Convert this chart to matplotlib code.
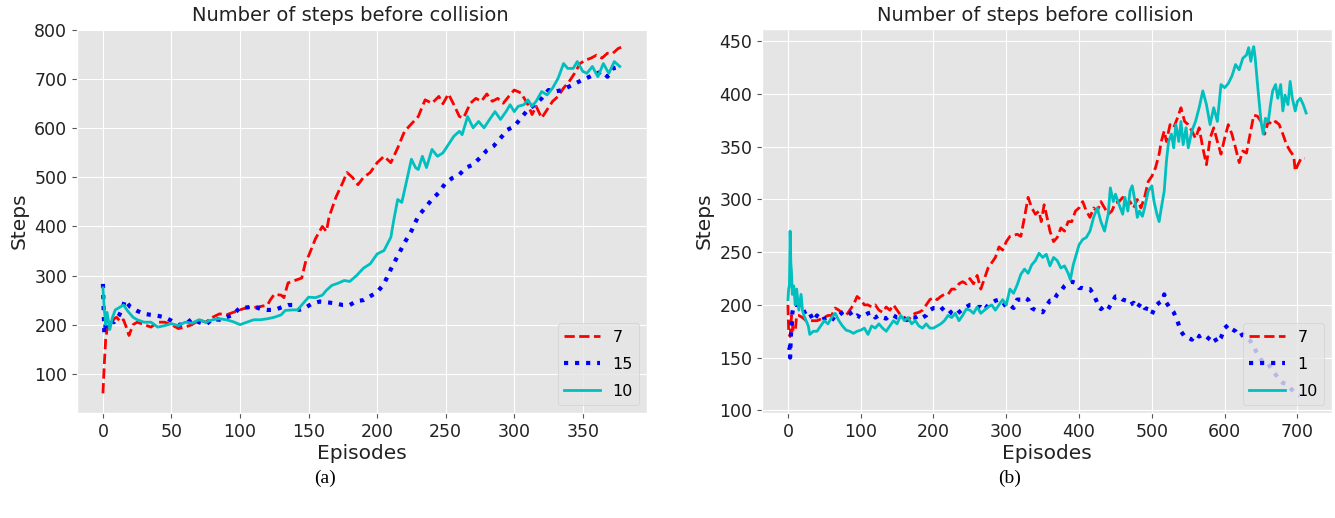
import numpy as np
import matplotlib
matplotlib.use("Agg")
import matplotlib.pyplot as plt

# ---- (a) values ----
a_red_x = [0, 1, 2, 3, 5, 8, 10, 13, 15, 17, 19, 22, 25, 30, 35, 40, 45, 50, 55, 60, 65, 70, 75, 80,
           85, 90, 95, 100, 105, 110, 115, 120, 122, 125, 130, 132, 135, 140, 145, 148, 150, 155, 160,
           163, 165, 170, 175, 178, 182, 186, 190, 195, 200, 205, 210, 215, 220, 225, 230, 235, 240,
           245, 248, 252, 256, 260, 263, 268, 272, 276, 280, 284, 288, 292, 296, 300, 305, 310, 313,
           316, 320, 324, 328, 332, 336, 340, 344, 348, 352, 356, 360, 364, 368, 372, 376, 378]
a_red_y = [60, 120, 170, 190, 200, 212, 215, 205, 210, 195, 178, 200, 205, 200, 195, 205, 205, 200,
           192, 195, 200, 210, 205, 215, 222, 220, 225, 230, 235, 235, 237, 240, 250, 262, 260, 255,
           285, 290, 295, 330, 340, 375, 400, 390, 420, 460, 490, 510, 500, 485, 500, 510, 530, 543,
           530, 560, 594, 609, 624, 658, 651, 665, 650, 670, 648, 624, 621, 651, 661, 655, 670, 655,
           661, 651, 665, 678, 672, 648, 628, 645, 621, 638, 655, 665, 682, 695, 712, 732, 739, 743,
           749, 743, 753, 753, 763, 765]

a_blue_x = [0, 1, 2, 5, 8, 12, 15, 16, 20, 25, 30, 35, 40, 45, 50, 55, 60, 65, 70, 75, 80, 85, 90,
            95, 100, 105, 110, 115, 120, 125, 130, 135, 140, 143, 148, 152, 158, 165, 170, 175, 180,
            185, 190, 195, 200, 205, 210, 215, 220, 225, 230, 235, 240, 245, 250, 255, 260, 265, 270,
            275, 280, 285, 290, 295, 300, 305, 310, 315, 320, 325, 330, 335, 340, 345, 350, 355, 360,
            365, 368, 372, 377]
a_blue_y = [283, 182, 200, 210, 205, 220, 240, 250, 236, 228, 222, 220, 218, 215, 208, 200, 200, 212,
            205, 200, 212, 210, 215, 220, 235, 235, 237, 232, 230, 230, 235, 240, 240, 230, 235, 242,
            247, 245, 243, 240, 240, 248, 250, 258, 266, 283, 313, 340, 367, 391, 421, 438, 455, 469,
            489, 499, 506, 520, 526, 540, 555, 564, 580, 597, 604, 621, 638, 648, 661, 678, 675, 678,
            685, 692, 699, 705, 712, 716, 705, 722, 726]

a_cyan_x = [0, 1, 2, 3, 5, 7, 9, 12, 15, 18, 22, 25, 30, 35, 40, 45, 50, 55, 60, 65, 70, 75, 80, 85,
            90, 95, 100, 105, 110, 115, 120, 125, 130, 133, 138, 142, 145, 150, 155, 160, 163, 167,
            172, 176, 180, 185, 190, 195, 200, 205, 210, 212, 215, 218, 222, 225, 228, 230, 233, 236,
            240, 244, 248, 252, 256, 260, 262, 266, 270, 274, 278, 282, 286, 290, 294, 297, 300, 303,
            307, 310, 313, 316, 320, 324, 328, 332, 336, 339, 343, 346, 350, 353, 357, 361, 365, 369,
            373, 377]
a_cyan_y = [275, 230, 200, 225, 190, 215, 230, 235, 240, 228, 215, 210, 205, 205, 195, 198, 202, 198,
            205, 203, 210, 205, 210, 212, 210, 206, 200, 205, 210, 210, 212, 215, 220, 229, 230, 230,
            240, 256, 255, 260, 270, 280, 285, 290, 288, 300, 315, 324, 344, 351, 378, 411, 455, 449,
            499, 537, 520, 516, 543, 520, 557, 543, 550, 567, 584, 594, 587, 624, 601, 614, 601, 618,
            634, 618, 634, 648, 634, 645, 648, 658, 645, 655, 675, 668, 682, 702, 732, 722, 722, 736,
            716, 712, 726, 705, 732, 712, 736, 726]

# ---- (b) values ----
b_red_x = [0, 1, 3, 5, 7, 10, 12, 15, 20, 25, 30, 40, 50, 55, 60, 65, 70, 75, 80, 85, 90, 95, 100,
           105, 110, 115, 120, 125, 130, 135, 140, 145, 150, 155, 160, 165, 170, 175, 180, 185, 190,
           195, 200, 205, 210, 215, 220, 225, 230, 235, 240, 245, 250, 255, 260, 265, 270, 275, 280,
           285, 290, 295, 300, 305, 315, 320, 325, 330, 335, 340, 345, 348, 352, 356, 360, 365, 370,
           375, 380, 385, 390, 395, 400, 405, 410, 415, 420, 425, 430, 435, 440, 445, 450, 455, 460,
           465, 470, 475, 480, 485, 490, 495, 500, 505, 510, 513, 517, 520, 525, 530, 535, 540, 545,
           550, 555, 560, 565, 570, 575, 580, 585, 590, 595, 600, 605, 610, 615, 620, 625, 630, 635,
           640, 645, 650, 655, 660, 665, 670, 675, 680, 685, 690, 695, 697, 700, 705, 710]
b_red_y = [200, 175, 170, 190, 175, 175, 190, 190, 188, 185, 185, 185, 188, 190, 190, 197, 195, 192,
           190, 195, 200, 208, 205, 200, 200, 198, 200, 195, 193, 198, 195, 200, 195, 190, 188, 185,
           190, 192, 193, 195, 200, 205, 207, 205, 208, 210, 210, 215, 215, 220, 222, 220, 225, 220,
           228, 215, 225, 235, 240, 245, 255, 252, 260, 265, 267, 265, 283, 302, 292, 286, 289, 279,
           295, 283, 270, 260, 264, 273, 270, 279, 279, 289, 292, 298, 289, 283, 292, 289, 298, 292,
           286, 289, 297, 298, 302, 295, 298, 292, 300, 292, 302, 317, 322, 330, 343, 355, 365, 355,
           371, 368, 377, 387, 374, 371, 365, 358, 368, 349, 333, 358, 368, 355, 343, 358, 371, 362,
           349, 335, 346, 344, 362, 380, 379, 374, 362, 374, 371, 374, 371, 362, 352, 346, 341, 327,
           332, 339, 339]

b_blue_x = [0, 2, 3, 4, 5, 6, 8, 10, 15, 20, 25, 30, 35, 40, 45, 50, 55, 60, 65, 70, 75, 80, 85, 90,
            95, 100, 105, 110, 115, 120, 125, 130, 135, 140, 145, 150, 155, 160, 165, 170, 175, 180,
            185, 190, 195, 200, 205, 210, 215, 220, 225, 230, 235, 240, 245, 250, 255, 260, 265, 270,
            275, 280, 285, 290, 295, 300, 305, 310, 315, 320, 325, 330, 335, 340, 345, 350, 355, 360,
            365, 370, 375, 380, 385, 390, 395, 400, 405, 410, 415, 420, 425, 430, 435, 440, 445, 450,
            455, 460, 465, 470, 475, 480, 485, 490, 495, 500, 505, 510, 515, 517, 520, 525, 530, 535,
            540, 545, 550, 555, 560, 565, 570, 575, 580, 585, 590, 595, 600, 605, 610, 615, 620, 625,
            630, 635, 640, 645, 650, 655, 660, 665, 670, 675, 680, 685, 690, 695, 700, 703]
b_blue_y = [160, 160, 150, 170, 180, 192, 200, 200, 200, 197, 190, 192, 185, 190, 185, 187, 188, 185,
            190, 190, 193, 195, 193, 188, 190, 188, 190, 192, 193, 188, 190, 188, 187, 190, 190, 188,
            188, 187, 185, 188, 188, 190, 188, 190, 195, 197, 197, 195, 198, 196, 192, 190, 193, 196,
            198, 200, 200, 198, 198, 195, 200, 202, 204, 205, 203, 198, 200, 197, 205, 205, 207, 205,
            197, 195, 194, 193, 199, 204, 204, 210, 213, 218, 221, 222, 221, 216, 216, 215, 215, 210,
            202, 196, 199, 196, 202, 208, 208, 205, 204, 200, 202, 197, 202, 197, 196, 191, 199, 202,
            204, 210, 202, 197, 193, 185, 175, 170, 169, 167, 172, 170, 172, 170, 167, 170, 164, 169,
            178, 181, 177, 175, 170, 172, 169, 166, 161, 153, 148, 144, 144, 139, 134, 129, 126, 125,
            121, 118, 115, 114]

b_cyan_x = [0, 1, 2, 3, 4, 5, 6, 8, 10, 12, 15, 18, 20, 22, 25, 28, 30, 35, 40, 45, 50, 55, 60, 65,
            70, 75, 80, 85, 90, 95, 100, 105, 110, 115, 120, 125, 130, 135, 140, 145, 150, 155, 160,
            165, 170, 175, 180, 185, 190, 195, 200, 205, 210, 215, 220, 225, 230, 235, 240, 245, 250,
            255, 260, 265, 270, 275, 280, 285, 290, 295, 300, 305, 310, 315, 320, 325, 330, 335, 340,
            345, 350, 355, 360, 365, 370, 375, 380, 385, 388, 392, 395, 400, 405, 410, 415, 420, 425,
            430, 435, 440, 443, 447, 450, 455, 460, 463, 467, 470, 473, 477, 480, 483, 487, 490, 495,
            500, 503, 507, 510, 513, 517, 520, 523, 527, 530, 533, 537, 540, 543, 547, 550, 555, 560,
            565, 570, 575, 580, 585, 590, 595, 600, 605, 610, 615, 620, 625, 630, 633, 636, 638, 640,
            642, 646, 650, 653, 656, 660, 663, 666, 670, 673, 677, 680, 683, 687, 690, 693, 697, 700,
            704, 708, 712]
b_cyan_y = [205, 215, 218, 270, 240, 230, 210, 218, 200, 215, 195, 210, 195, 190, 185, 180, 172, 175,
            175, 180, 185, 182, 188, 192, 185, 180, 176, 175, 173, 175, 176, 178, 172, 180, 178, 182,
            178, 175, 180, 185, 182, 190, 185, 188, 182, 185, 180, 178, 182, 178, 178, 180, 182, 185,
            190, 188, 192, 185, 190, 196, 195, 192, 198, 192, 195, 198, 200, 195, 200, 205, 200, 215,
            211, 219, 229, 234, 230, 238, 242, 249, 245, 248, 237, 245, 242, 235, 237, 230, 224, 238,
            245, 257, 262, 264, 270, 283, 292, 279, 270, 286, 311, 298, 305, 295, 286, 302, 289, 308,
            313, 298, 283, 289, 284, 292, 308, 313, 298, 286, 279, 292, 308, 336, 355, 362, 349, 371,
            355, 374, 352, 368, 349, 365, 374, 387, 403, 390, 371, 387, 374, 409, 406, 410, 417, 428,
            423, 434, 437, 444, 431, 440, 445, 434, 403, 374, 362, 377, 374, 390, 403, 409, 396, 409,
            384, 399, 390, 412, 396, 384, 393, 396, 390, 382]

plt.style.use('ggplot')

fig = plt.figure(figsize=(13.35, 5.18), dpi=100)
fig.patch.set_facecolor('white')
ax1 = fig.add_axes([0.0577, 0.2027, 0.427, 0.741])
ax2 = fig.add_axes([0.5708, 0.2027, 0.427, 0.741])

tick_fs = 12.5
label_fs = 14.5
title_fs = 14

# (a)
ax1.plot(a_red_x, a_red_y, 'r--', lw=2, label='7')
ax1.plot(a_blue_x, a_blue_y, 'b:', lw=3, label='15')
ax1.plot(a_cyan_x, a_cyan_y, 'c-', lw=2, label='10')
ax1.set_ylim(20, 802)
ax1.set_yticks([100, 200, 300, 400, 500, 600, 700, 800])
ax1.set_xticks([0, 50, 100, 150, 200, 250, 300, 350])

# (b)
ax2.plot(b_red_x, b_red_y, 'r--', lw=2, label='7')
ax2.plot(b_blue_x, b_blue_y, 'b:', lw=3, label='1')
ax2.plot(b_cyan_x, b_cyan_y, 'c-', lw=2, label='10')
ax2.set_yticks([100, 150, 200, 250, 300, 350, 400, 450])
ax2.set_xticks([0, 100, 200, 300, 400, 500, 600, 700])

for ax in (ax1, ax2):
    ax.set_title('Number of steps before collision', fontsize=title_fs, color='#222222', x=0.48)
    ax.set_xlabel('Episodes', fontsize=label_fs, color='#222222', labelpad=2)
    ax.set_ylabel('Steps', fontsize=label_fs, color='#222222', labelpad=4)
    ax.tick_params(labelsize=tick_fs, labelcolor='#222222')
    ax.legend(loc='lower right', fontsize=11.5, labelspacing=0.75, handlelength=2.2)

fig.text(0.2435, 0.077, '(a)', ha='center', va='center', fontsize=14, family='Liberation Serif')
fig.text(0.7566, 0.077, '(b)', ha='center', va='center', fontsize=14, family='Liberation Serif')

fig.savefig('out.png', dpi=100)
